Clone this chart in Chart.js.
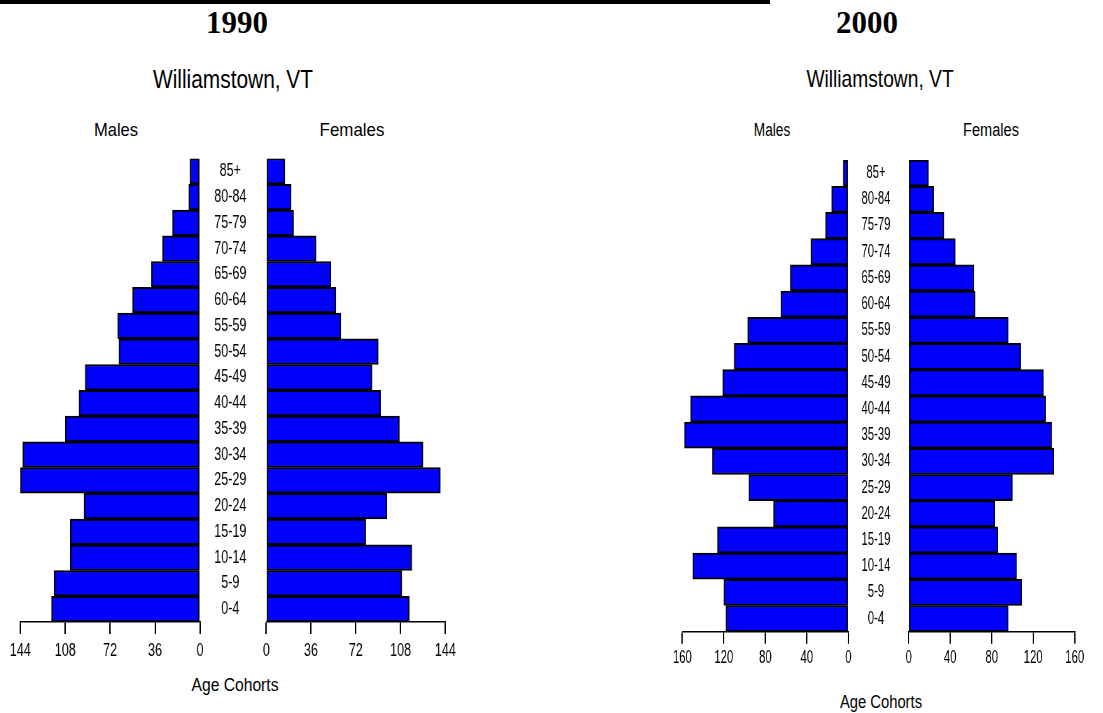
<!DOCTYPE html>
<html lang="en">
<head>
    <meta charset="UTF-8">
    <title>Williamstown, VT population pyramids</title>
    <style>
        body {
            margin: 0;
            padding: 0;
            background-color: #ffffff;
            width: 1103px;
            height: 713px;
            overflow: hidden;
            position: relative;
            font-family: "Liberation Sans", Arial, sans-serif;
        }
        .topline {
            position: absolute;
            left: 0;
            top: 0;
            width: 770px;
            height: 4px;
            background: #000;
        }
        .txt {
            position: absolute;
            line-height: 1;
            white-space: nowrap;
            color: #000;
        }
        .year {
            font-family: "Liberation Serif", "Times New Roman", serif;
            font-weight: bold;
            font-size: 31px;
        }
        canvas {
            position: absolute;
            transform-origin: 0 0;
        }
    </style>
</head>
<body>

    <div class="topline"></div>

    <div class="txt year" style="left:237px; top:7px; transform:translateX(-50%);">1990</div>
    <div class="txt" style="left:233px; top:67px; font-size:25px; transform:translateX(-50%) scaleX(0.835);">Williamstown, VT</div>
    <div class="txt" style="left:116px; top:120px; font-size:19px; transform:translateX(-50%) scaleX(0.87);">Males</div>
    <div class="txt" style="left:352px; top:120px; font-size:19px; transform:translateX(-50%) scaleX(0.89);">Females</div>
    <div class="txt" style="left:235px; top:676px; font-size:18px; transform:translateX(-50%) scaleX(0.87);">Age Cohorts</div>

    <div class="txt year" style="left:867px; top:7px; transform:translateX(-50%);">2000</div>
    <div class="txt" style="left:880px; top:67px; font-size:24px; transform:translateX(-50%) scaleX(0.8);">Williamstown, VT</div>
    <div class="txt" style="left:772px; top:121px; font-size:18px; transform:translateX(-50%) scaleX(0.76);">Males</div>
    <div class="txt" style="left:991px; top:121px; font-size:18px; transform:translateX(-50%) scaleX(0.81);">Females</div>
    <div class="txt" style="left:881px; top:693px; font-size:18px; transform:translateX(-50%) scaleX(0.82);">Age Cohorts</div>

    <!-- the old charts use a tall narrow font, so each canvas is squeezed horizontally -->
    <canvas id="m1990" width="300" height="522" style="left:0px; top:140px; transform:scaleX(0.7);"></canvas>
    <canvas id="f1990" width="378" height="522" style="left:196px; top:140px; transform:scaleX(0.7);"></canvas>
    <canvas id="m2000" width="314" height="532" style="left:660px; top:140px; transform:scaleX(0.63);"></canvas>
    <canvas id="f2000" width="395" height="532" style="left:838px; top:140px; transform:scaleX(0.63);"></canvas>

    <script src="https://cdn.jsdelivr.net/npm/chart.js"></script>
    <script>
        // age cohorts, top of pyramid first
        const ageGroups = ['85+', '80-84', '75-79', '70-74', '65-69', '60-64', '55-59', '50-54', '45-49',
                           '40-44', '35-39', '30-34', '25-29', '20-24', '15-19', '10-14', '5-9', '0-4'];

        const males1990   = [8, 9, 22, 30, 39, 54, 66, 65, 92, 97, 108, 142, 144, 93, 104, 104, 117, 119];
        const females1990 = [15, 20, 22, 40, 52, 56, 60, 90, 85, 92, 107, 126, 140, 97, 80, 117, 109, 115];
        const males2000   = [5, 16, 22, 36, 56, 65, 97, 110, 121, 152, 158, 131, 96, 72, 126, 150, 120, 118];
        const females2000 = [19, 24, 34, 45, 63, 64, 96, 108, 130, 132, 138, 140, 100, 83, 86, 104, 109, 96];

        const ticks1990 = [0, 36, 72, 108, 144];
        const ticks2000 = [0, 40, 80, 120, 160];

        const sans = "'Liberation Sans', Arial, sans-serif";

        function pyramidSide(id, values, tickVals, o) {
            const isFemale = o.side === 'f';
            const ctx = document.getElementById(id).getContext('2d');
            return new Chart(ctx, {
                type: 'bar',
                data: {
                    labels: ageGroups,
                    datasets: [{
                        data: values,
                        backgroundColor: '#0000ff',
                        borderColor: '#000000',
                        borderWidth: 2,
                        borderSkipped: false,
                        barPercentage: 1,
                        categoryPercentage: 1
                    }]
                },
                options: {
                    indexAxis: 'y',
                    responsive: false,
                    animation: false,
                    devicePixelRatio: 1,
                    layout: { padding: o.pad },
                    plugins: {
                        legend: { display: false },
                        tooltip: { enabled: false }
                    },
                    scales: {
                        x: {
                            min: tickVals[0],
                            max: tickVals[tickVals.length - 1],
                            reverse: !isFemale,
                            ticks: {
                                stepSize: tickVals[1] - tickVals[0],
                                color: '#000',
                                font: { family: sans, size: 18 },
                                padding: o.tickPad,
                                maxRotation: 0,
                                autoSkip: false
                            },
                            grid: {
                                drawOnChartArea: false,
                                drawTicks: true,
                                tickLength: 12,
                                color: '#000',
                                lineWidth: 2
                            },
                            border: { display: true, color: '#000', width: 1.5 },
                            afterFit: s => { s.height = o.xHeight; }
                        },
                        y: isFemale ? {
                            position: 'left',
                            grid: { display: false },
                            border: { display: false },
                            ticks: {
                                crossAlign: 'center',
                                color: '#000',
                                font: { family: sans, size: 18 },
                                padding: o.agePad,
                                autoSkip: false
                            },
                            afterFit: s => {
                                s.width = o.yWidth;
                                // keep the bars the same height as on the male side
                                s.paddingTop = 0;
                                s.paddingBottom = 0;
                            }
                        } : { display: false }
                    }
                }
            });
        }

        pyramidSide('m1990', males1990, ticks1990, {
            side: 'm', pad: { left: 29, right: 14.3, top: 18.5, bottom: 0 },
            xHeight: 40, tickPad: 6.7
        });
        pyramidSide('f1990', females1990, ticks1990, {
            side: 'f', pad: { left: 0, right: 20.4, top: 18.5, bottom: 0 },
            xHeight: 40, tickPad: 6.7, yWidth: 100.4, agePad: 20.4
        });
        pyramidSide('m2000', males2000, ticks2000, {
            side: 'm', pad: { left: 35.4, right: 15.1, top: 20, bottom: 0 },
            xHeight: 40.3, tickPad: 3.7
        });
        pyramidSide('f2000', females2000, ticks2000, {
            side: 'f', pad: { left: 0, right: 19.3, top: 20, bottom: 0 },
            xHeight: 40.3, tickPad: 3.7, yWidth: 112.2, agePad: 20.9
        });
    </script>
</body>
</html>
